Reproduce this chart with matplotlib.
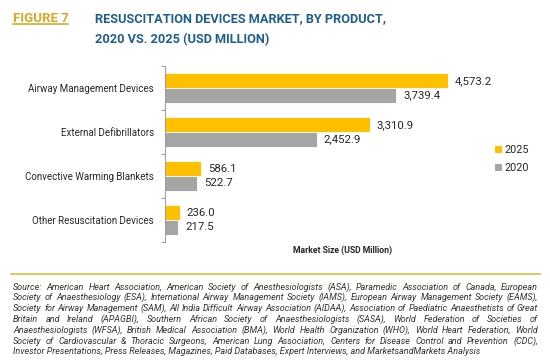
import matplotlib
matplotlib.use("Agg")
import matplotlib.pyplot as plt
from matplotlib.patches import Patch
from matplotlib.lines import Line2D
import numpy as np

categories = ["Airway Management Devices", "External Defibrillators",
              "Convective Warming Blankets", "Other Resuscitation Devices"]
values_2025 = [4573.2, 3310.9, 586.1, 236.0]
values_2020 = [3739.4, 2452.9, 522.7, 217.5]
series_labels = ["2025", "2020"]
source_lines = [
    "Source: American Heart Association, American Society of Anesthesiologists (ASA), Paramedic Association of Canada, European",
    "Society of Anaesthesiology (ESA), International Airway Management Society (IAMS), European Airway Management Society (EAMS),",
    "Society for Airway Management (SAM), All India Difficult Airway Association (AIDAA), Association of Paediatric Anaesthetists of Great",
    "Britain and Ireland (APAGBI), Southern African Society of Anaesthesiologists (SASA), World Federation of Societies of",
    "Anaesthesiologists (WFSA), British Medical Association (BMA), World Health Organization (WHO), World Heart Federation, World",
    "Society of Cardiovascular & Thoracic Surgeons, American Lung Association, Centers for Disease Control and Prevention (CDC),",
    "Investor Presentations, Press Releases, Magazines, Paid Databases, Expert Interviews, and MarketsandMarkets Analysis",
]

W, H = 550, 360
def fx(px): return px / W
def fy(py): return 1 - py / H

GOLD = "#FFC000"
GREY = "#A5A5A5"
BLUE = "#1F5F8B"
FIGGOLD = "#D8A928"
TXT = "#262626"
BODY = ["Roboto", "DejaVu Sans"]
HEAD = ["Roboto", "DejaVu Sans"]

fig = plt.figure(figsize=(5.5, 3.6), dpi=100)
fig.patch.set_facecolor("white")
renderer = fig.canvas.get_renderer()

def fit(t, target_px):
    w = t.get_window_extent(renderer).width
    t.set_fontsize(t.get_fontsize() * target_px / w)
    return t

ax = fig.add_axes([fx(165), fy(242), fx(540) - fx(165), (242 - 66) / H])
n = len(categories)
y = np.arange(n)
bh = 0.33
b1 = ax.barh(y - bh / 2, values_2025, height=bh, color=GOLD, edgecolor="white", linewidth=0.6, label=series_labels[0])
b2 = ax.barh(y + bh / 2, values_2020, height=bh, color=GREY, edgecolor="white", linewidth=0.6, label=series_labels[1])
ax.set_ylim(n - 0.5, -0.5)
ax.set_xlim(0, 375 / 0.0619)
for bars, vals in ((b1, values_2025), (b2, values_2020)):
    ax.bar_label(bars, labels=[f"{v:,.1f}" for v in vals], padding=5,
                 fontsize=8.2, color=TXT, family=BODY)
ax.set_yticks(y)
ax.set_yticklabels(categories, fontsize=8, color=TXT, family=BODY)
ax.tick_params(axis="y", which="major", length=0, pad=8)
ax.set_yticks(np.arange(-0.5, n, 1.0), minor=True)
ax.tick_params(axis="y", which="minor", length=3, color="#A0A0A0", width=0.8)
ax.set_xticks([])
for s in ("top", "right", "bottom"):
    ax.spines[s].set_visible(False)
ax.spines["left"].set_color("#A0A0A0")
ax.spines["left"].set_linewidth(0.8)

# fit category label size to reference width
fig.canvas.draw()
lab0 = ax.get_yticklabels()[0]
w0 = lab0.get_window_extent(renderer).width
fs_cat = 8 * 126 / w0
for lab in ax.get_yticklabels():
    lab.set_fontsize(fs_cat)

# x label
xl = fig.text(fx(343), fy(250), "Market Size (USD Million)", ha="center", va="center",
              fontsize=7, fontweight="bold", color=TXT, family=HEAD)
fit(xl, 100)

# legend
handles = [Patch(facecolor=GOLD, edgecolor="none"), Patch(facecolor=GREY, edgecolor="none")]
fig.legend(handles, series_labels, loc="center left", bbox_to_anchor=(fx(495), fy(159)),
           frameon=False, handlelength=0.6, handleheight=0.6, handletextpad=0.3,
           labelspacing=0.75, prop={"family": BODY, "size": 7.8}, labelcolor=TXT, borderaxespad=0, borderpad=0)

# title
t1 = fig.text(fx(13), fy(21.7), "FIGURE 7", ha="left", va="baseline", fontsize=10.5,
              fontweight="bold", color=FIGGOLD, family=HEAD)
fit(t1, 56)
fig.add_artist(Line2D([fx(13), fx(68)], [fy(24), fy(24)], color=FIGGOLD, linewidth=1.2))
t2 = fig.text(fx(95), fy(21.7), "RESUSCITATION DEVICES MARKET, BY PRODUCT,", ha="left", va="baseline",
              fontsize=10.5, fontweight="bold", color=BLUE, family=HEAD)
fit(t2, 292)
fig.text(fx(95), fy(42.7), "2020 VS. 2025 (USD MILLION)", ha="left", va="baseline",
         fontsize=t2.get_fontsize(), fontweight="bold", color=BLUE, family=HEAD)

# gold rule
fig.add_artist(Line2D([fx(11), fx(540)], [fy(274), fy(274)], color="#E0B93A", linewidth=1.2))

# justified source text
left_px, right_px = 13, 538
top = 289.5
lh = 10.8
kw = dict(fontsize=7, style="italic", color="#333333", family=BODY, va="baseline", ha="left")
probes = [fig.text(0, 0, s, **kw) for s in source_lines]
maxw = max(p.get_window_extent(renderer).width for p in probes)
for p in probes:
    p.remove()
kw["fontsize"] = 7 * (right_px - left_px) / maxw * 0.995
for i, line in enumerate(source_lines):
    yb = fy(top + i * lh)
    words = line.split(" ")
    if i == len(source_lines) - 1:
        fig.text(fx(left_px), yb, line, **kw)
        continue
    texts = [fig.text(0, yb, w_, **kw) for w_ in words]
    widths = [t.get_window_extent(renderer).width for t in texts]
    gap = (right_px - left_px - sum(widths)) / (len(words) - 1)
    x = left_px
    for t, wd in zip(texts, widths):
        t.set_x(fx(x))
        x += wd + gap

fig.savefig("out.png", dpi=100, facecolor="white")
